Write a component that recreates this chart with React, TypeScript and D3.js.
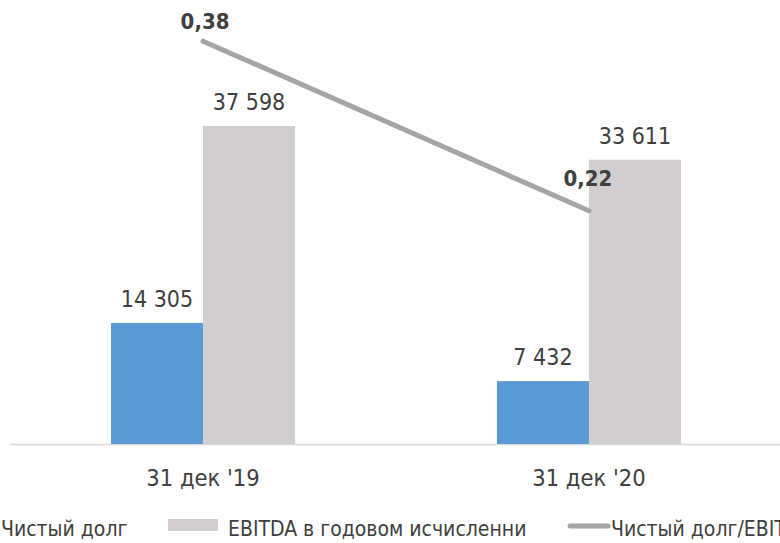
import { useEffect } from "react";
import * as d3 from "d3";

const categories = ["31 дек '19", "31 дек '20"];
const seriesNames = ["Чистый долг", "EBITDA в годовом исчисленни", "Чистый долг/EBITDA"];
const netDebt = [14305, 7432];
const ebitda = [37598, 33611];
const ratio = [0.38, 0.22];

const ratioLabelShift = [
  { dx: 2, dy: -12 },
  { dx: -1, dy: -25 },
];

const width = 780;
const height = 543;
const font = "'DejaVu Sans Condensed', 'DejaVu Sans', sans-serif";
const textColor = "#404040";
const colors = ["#5b9bd5", "#d0cece", "#a5a5a5"];

const fmt = (v: number) => d3.format(",")(v).replace(/,/g, " ");
const fmtRatio = (v: number) => d3.format(".2f")(v).replace(".", ",");

function App() {
  useEffect(() => {
    document.body.style.margin = "0";
  }, []);

  const x = d3
    .scaleBand<string>()
    .domain(categories)
    .range([10, 782])
    .paddingInner(0.523)
    .paddingOuter(0.2617);

  const sub = d3
    .scaleBand<string>()
    .domain(["net", "ebitda"])
    .range([0, x.bandwidth()]);

  const y = d3.scaleLinear().domain([0, 40000]).range([444, 444 - 40000 * 0.008458]);
  const y2 = d3.scaleLinear().domain([0, 0.4]).range([444, 444 - 0.4 * 1060]);

  const bars = categories.flatMap((c, i) => [
    { c, key: "net", v: netDebt[i], color: colors[0] },
    { c, key: "ebitda", v: ebitda[i], color: colors[1] },
  ]);

  const pts = categories.map((c, i) => [x(c)! + x.bandwidth() / 2, y2(ratio[i])] as [number, number]);
  const line = d3.line();

  return (
    <svg width={width} height={height} style={{ display: "block" }}>
      <rect width={width} height={height} fill="#ffffff" />
      <line x1={10} x2={780} y1={444.5} y2={444.5} stroke="#d9d9d9" strokeWidth={1.5} />
      {bars.map((b) => (
        <g key={b.c + b.key}>
          <rect
            x={x(b.c)! + sub(b.key)!}
            y={y(b.v)}
            width={sub.bandwidth()}
            height={y(0) - y(b.v)}
            fill={b.color}
          />
          <text
            x={x(b.c)! + sub(b.key)! + sub.bandwidth() / 2}
            y={y(b.v) - 16}
            textAnchor="middle"
            fontFamily={font}
            fontSize={23}
            fill={textColor}
          >
            {fmt(b.v)}
          </text>
        </g>
      ))}
      <path
        d={line(pts) ?? ""}
        fill="none"
        stroke={colors[2]}
        strokeWidth={5}
        strokeLinecap="round"
      />
      {pts.map((p, i) => (
        <text
          key={i}
          x={p[0] + ratioLabelShift[i].dx}
          y={p[1] + ratioLabelShift[i].dy}
          textAnchor="middle"
          fontFamily={font}
          fontSize={22}
          fontWeight="bold"
          fill={textColor}
        >
          {fmtRatio(ratio[i])}
        </text>
      ))}
      {categories.map((c) => (
        <text
          key={c}
          x={x(c)! + x.bandwidth() / 2}
          y={486}
          textAnchor="middle"
          fontFamily={font}
          fontSize={23.5}
          fill={textColor}
        >
          {c}
        </text>
      ))}
      {/* legend, the first swatch sits outside the picture and the last text runs off the edge */}
      <g fontFamily={font} fontSize={21} fill={textColor}>
        <rect x={-58} y={519} width={50} height={12} fill={colors[0]} />
        <text x={1} y={536}>{seriesNames[0]}</text>
        <rect x={168} y={519} width={50} height={12} fill={colors[1]} />
        <text x={228} y={536}>{seriesNames[1]}</text>
        <line x1={570} x2={608} y1={526} y2={526} stroke={colors[2]} strokeWidth={5} strokeLinecap="round" />
        <text x={611} y={536}>{seriesNames[2]}</text>
      </g>
    </svg>
  );
}

export default App;
